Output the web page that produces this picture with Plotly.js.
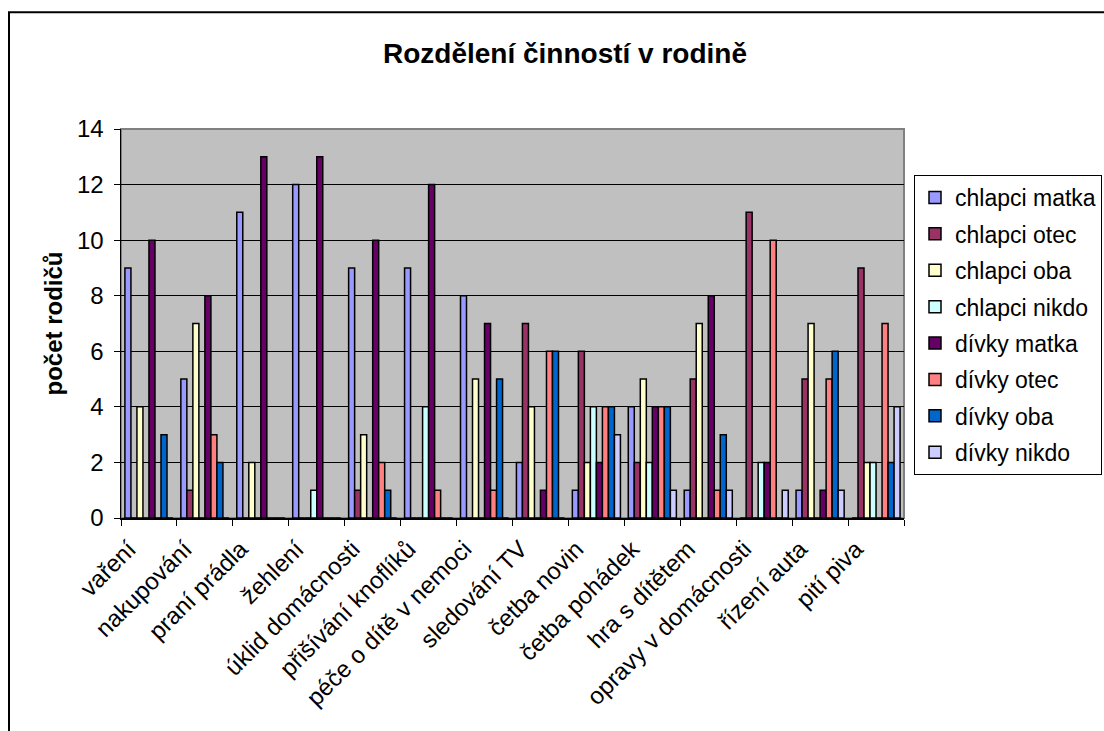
<!DOCTYPE html>
<html>
<head>
<meta charset="utf-8">
<script src="https://cdn.plot.ly/plotly-3.0.1.min.js"></script>
<style>
html,body{margin:0;padding:0;background:#fff;}
#chart{width:1104px;height:731px;}
</style>
</head>
<body>
<div id="chart"></div>
<script>
const categories = ["vaření","nakupování","praní prádla","žehlení","úklid domácnosti","přišívání knoflíků","péče o dítě v nemoci","sledování TV","četba novin","četba pohádek","hra s dítětem","opravy v domácnosti","řízení auta","pití piva"];

const chlapciMatka  = [9, 5, 11, 12, 9, 9, 8, 2, 1, 4, 1, 0, 1, 0];
const chlapciOtec   = [0, 1, 0, 0, 1, 0, 0, 7, 6, 2, 5, 11, 5, 9];
const chlapciOba    = [4, 7, 2, 0, 3, 0, 5, 4, 2, 5, 7, 0, 7, 2];
const chlapciNikdo  = [0, 0, 0, 1, 0, 4, 0, 0, 4, 2, 0, 2, 0, 2];
const divkyMatka    = [10, 8, 13, 13, 10, 12, 7, 1, 2, 4, 8, 2, 1, 0];
const divkyOtec     = [0, 3, 0, 0, 2, 1, 1, 6, 4, 4, 1, 10, 5, 7];
const divkyOba      = [3, 2, 0, 0, 1, 0, 5, 6, 4, 4, 3, 0, 6, 2];
const divkyNikdo    = [0, 0, 0, 0, 0, 0, 0, 0, 3, 1, 1, 1, 1, 4];

const seriesNames = ["chlapci matka","chlapci otec","chlapci oba","chlapci nikdo","dívky matka","dívky otec","dívky oba","dívky nikdo"];
const seriesValues = [chlapciMatka, chlapciOtec, chlapciOba, chlapciNikdo, divkyMatka, divkyOtec, divkyOba, divkyNikdo];
const seriesColors = ["#9999FF","#993366","#FFFFCC","#CCFFFF","#660066","#FF8080","#0066CC","#CCCCFF"];

const FONT = "Arial, 'Liberation Sans', sans-serif";

const traces = seriesNames.map((n, i) => ({
  type: "bar",
  name: n,
  x: categories,
  y: seriesValues[i],
  legendgroup: "g" + i,
  marker: {color: seriesColors[i], line: {color: "#000000", width: 1.5}},
  hoverinfo: "x+y+name"
}));

const L = 121, R = 904, T = 129, B = 518.5, W = 1104, H = 731;
const pw = R - L, ph = B - T;
const px = v => (v - L) / pw;
const py = v => (B - v) / ph;

const layout = {
  width: W, height: H,
  margin: {l: L, r: W - R, t: T, b: H - B, pad: 0, autoexpand: false},
  paper_bgcolor: "#ffffff",
  plot_bgcolor: "#C0C0C0",
  font: {family: FONT, size: 24, color: "#000000"},
  barmode: "group",
  bargap: 0.14,
  bargroupgap: 0,
  showlegend: true,
  title: {
    text: "<b>Rozdělení činností v rodině</b>",
    font: {family: FONT, size: 28, color: "#000000"},
    xref: "paper", x: px(565), xanchor: "center",
    yref: "container", y: 1 - 53 / H, yanchor: "middle"
  },
  xaxis: {
    type: "category",
    tickangle: -45,
    ticks: "outside", ticklen: 6, tickcolor: "#000000", tickwidth: 1,
    tickson: "boundaries",
    showline: true, linecolor: "#000000", linewidth: 1.5,
    showgrid: false, zeroline: false,
    tickfont: {family: FONT, size: 24, color: "#000000"},
    ticklabelshift: -20,
    ticklabelstandoff: 6,
    automargin: false
  },
  yaxis: {
    range: [0, 14], dtick: 2,
    ticks: "outside", ticklen: 6, tickcolor: "#000000", tickwidth: 1,
    showline: true, linecolor: "#000000", linewidth: 1.5,
    showgrid: true, gridcolor: "#000000", gridwidth: 1,
    zeroline: false,
    tickfont: {family: FONT, size: 24, color: "#000000"},
    ticklabelstandoff: 5,
    title: {text: "<b>počet rodičů</b>", font: {family: FONT, size: 24, color: "#000000"}, standoff: 7},
    automargin: false
  },
  legend: {
    xref: "container", yref: "container",
    x: 914 / W, xanchor: "left",
    y: 1 - 175 / H, yanchor: "top",
    bgcolor: "#ffffff",
    bordercolor: "#000000", borderwidth: 1,
    font: {family: FONT, size: 23, color: "#000000"},
    itemwidth: 30,
    tracegroupgap: 3.5,
    traceorder: "grouped"
  },
  shapes: [
    {type: "rect", xref: "paper", yref: "paper", x0: 0, x1: 1, y0: 0, y1: 1,
     line: {color: "#808080", width: 2}, fillcolor: "rgba(0,0,0,0)", layer: "below"},
    {type: "rect", xref: "paper", yref: "paper", x0: px(9), x1: px(1300), y0: py(900), y1: py(12),
     line: {color: "#000000", width: 2}, fillcolor: "rgba(0,0,0,0)", layer: "above"}
  ]
};

Plotly.newPlot("chart", traces, layout, {displayModeBar: false, staticPlot: true});
</script>
</body>
</html>
